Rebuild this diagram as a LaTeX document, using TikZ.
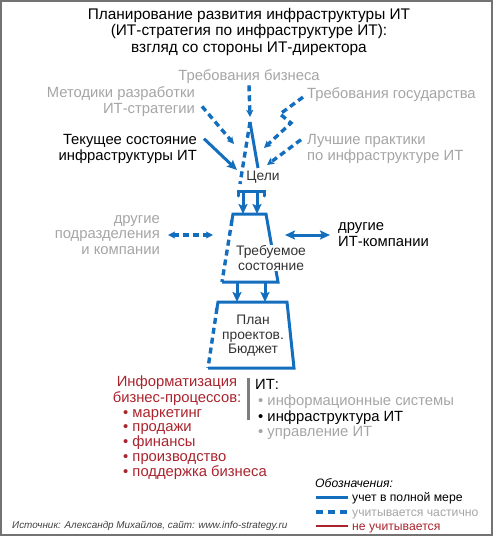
\documentclass[tikz,border=0pt]{standalone}
\usepackage{fontspec}
\setmainfont{Liberation Sans}
\usetikzlibrary{arrows.meta, positioning}
\definecolor{itblue}{RGB}{20,110,190}
\definecolor{softgray}{RGB}{165,165,165}
\definecolor{darkred}{RGB}{170,35,45}
\definecolor{framegray}{RGB}{115,115,115}
\definecolor{sepgray}{RGB}{125,125,125}
\newcommand{\titlesize}{\fontsize{15.4}{16.5}\selectfont}
\newcommand{\labelsize}{\fontsize{14.8}{15.5}\selectfont}
\newcommand{\listsize}{\fontsize{14.8}{14.7}\selectfont}
\newcommand{\innersize}{\fontsize{13.8}{14.5}\selectfont}
\newcommand{\legendsize}{\fontsize{12.2}{14.5}\selectfont}
\newcommand{\sourcesize}{\fontsize{9.9}{12}\selectfont}
\tikzset{
  full/.style={itblue, line width=3pt},
  part/.style={itblue, line width=3.4pt, dash pattern=on 6pt off 4pt},
  none/.style={darkred, line width=1.3pt},
  fulltip/.style={-{Stealth[length=10pt, width=9pt, inset=2pt]}},
  parttip/.style={-{Stealth[length=7pt, width=7pt, inset=1.5pt]}},
  grayname/.style={inner sep=0pt, font=\labelsize, text=softgray},
  blackname/.style={inner sep=0pt, font=\labelsize, text=black},
  redname/.style={inner sep=0pt, font=\labelsize, text=darkred},
  stagetext/.style={inner sep=0pt, font=\innersize, text=black!80, align=center},
  legendtext/.style={inner sep=0pt, font=\legendsize, anchor=base west},
}

\begin{document}
\begin{tikzpicture}[x=1pt, y=-1pt]
  \useasboundingbox (0,0) rectangle (493,536);
  \draw[framegray, line width=2pt] (1,1) rectangle (492,535);

  % title (base = last line)
  \node[inner sep=0pt, font=\titlesize, align=center, anchor=base] (title) at (249,52)
    {Планирование развития инфраструктуры ИТ\\(ИТ-стратегия по инфраструктуре ИТ):\\взгляд со стороны ИТ-директора};

  % inputs for the goals
  \node[grayname, anchor=base] (biz) at (249,80) {Требования бизнеса};
  \node[grayname, anchor=base east, align=right] (method) at (195,113) {Методики разработки\\ИТ-стратегии};
  \node[grayname, anchor=base west] (gov) at (307,98) {Требования государства};
  \node[blackname, anchor=base east, align=right] (current) at (197,160) {Текущее состояние\\инфраструктуры ИТ};
  \node[grayname, anchor=base west, align=left] (best) at (307,160) {Лучшие практики\\по инфраструктуре ИТ};

  % goals
  \coordinate (goaltop) at (250,122);
  \coordinate (goalleft) at (240,184);
  \coordinate (goalright) at (258,168);
  \draw[part] (goaltop) -- (goalleft);
  \draw[full] (goaltop) -- (goalright);
  \node[stagetext] (goal) at (263,177) {Цели};

  \coordinate (bizin) at (250,117);
  \coordinate (methodin) at (234,144);
  \coordinate (currentin) at (237,170);
  \coordinate (govin) at (264,148);
  \coordinate (bestin) at (267,165);
  \draw[part, parttip] ([yshift=-2pt]biz.south) -- (bizin);
  \draw[part, parttip] ([xshift=7pt, yshift=-5pt]method.east) -- (methodin);
  \draw[full, fulltip] ([xshift=7pt, yshift=10pt]current.east) -- (currentin);
  \draw[part, parttip] ([xshift=-4pt, yshift=-3pt]gov.west) -- (280,114) -- (291,123) -- (govin);
  \draw[part, parttip] ([xshift=-6pt, yshift=9pt]best.west) -- (bestin);

  \draw[full, line cap=round] (238,196) -- (238,191) -- (264,191) -- (264,196);

  % required state
  \coordinate (needTL) at (233,214);
  \coordinate (needTR) at (266,214);
  \coordinate (needBR) at (278,282);
  \coordinate (needBL) at (222,282);
  \draw[full, fulltip] (243,191) -- (needTL -| 243,0);
  \draw[full, fulltip] (257,191) -- (needTL -| 257,0);
  \draw[full] (needBL) -- (needBR) -- (needTR) -- (needTL) -- ++(-1,6);
  \draw[part] ([shift={(-1,6)}]needTL) -- (needBL);
  \node[stagetext, fill=white, inner sep=1pt] (need) at (271,258) {Требуемое\\состояние};

  \node[grayname, anchor=base east, align=right] (units) at (160,254) {другие\\подразделения\\и компании};
  \node[blackname, anchor=base west, align=left] (itco) at (338,246) {другие\\ИТ-компании};
  \coordinate (needleft) at (213,235);
  \coordinate (needright) at (285,235);
  \draw[part, {Stealth[length=7pt, width=7pt, inset=1.5pt]}-{Stealth[length=7pt, width=7pt, inset=1.5pt]}, shorten <=8pt]
    (units.east |- needleft) -- (needleft);
  \draw[full, {Stealth[length=10pt, width=9pt, inset=2pt]}-{Stealth[length=10pt, width=9pt, inset=2pt]}, shorten <=8pt]
    (itco.west |- needright) -- (needright);

  % plan
  \coordinate (planTL) at (218,302);
  \coordinate (planTR) at (287,302);
  \coordinate (planBR) at (294,368);
  \coordinate (planBL) at (208,368);
  \draw[full, fulltip] (237,282) -- (planTL -| 237,0);
  \draw[full, fulltip] (265,282) -- (planTL -| 265,0);
  \draw[full] (planBL) -- (planBR) -- (planTR) -- (planTL) -- ++(-1,6);
  \draw[part] ([shift={(-1,6)}]planTL) -- (planBL);
  \node[stagetext] (plan) at (253,336) {План\\проектов.\\Бюджет};

  % business processes
  \node[redname, anchor=base, align=center] (proc) at (177,402) {Информатизация\\бизнес-процессов:};
  \node[redname, font=\listsize, anchor=base west, align=left] (proclist) at (123,476)
    {\textbullet\ маркетинг\\\textbullet\ продажи\\\textbullet\ финансы\\\textbullet\ производство\\\textbullet\ поддержка бизнеса};

  % IT
  \draw[sepgray, line width=3pt] (248,378) -- (248,420);
  \node[blackname, anchor=base west] (it) at (255,389) {ИТ:};
  \node[grayname, anchor=base west] (itsys) at (258,405) {\textbullet\ информационные системы};
  \node[blackname, anchor=base west] (itinfra) at (258,421) {\textbullet\ инфраструктура ИТ};
  \node[grayname, anchor=base west] (itmgmt) at (258,436) {\textbullet\ управление ИТ};

  % legend
  \node[legendtext, font=\legendsize\itshape] (legend) at (315,487) {Обозначения:};
  \node[legendtext] (lfull) at (352,501) {учет в полной мере};
  \node[legendtext, text=softgray] (lpart) at (352,516) {учитывается частично};
  \node[legendtext, text=darkred] (lnone) at (352,530) {не учитывается};
  \draw[full] (316,497) -- (348,497);
  \draw[part, dash pattern=on 7pt off 5pt] (316,512) -- (348,512);
  \draw[none] (316,526) -- (348,526);

  \node[inner sep=0pt, font=\sourcesize\itshape, text=black!75, anchor=base west] (source) at (12,528)
    {Источник: Александр Михайлов, сайт: www.info-strategy.ru};
\end{tikzpicture}
\end{document}
